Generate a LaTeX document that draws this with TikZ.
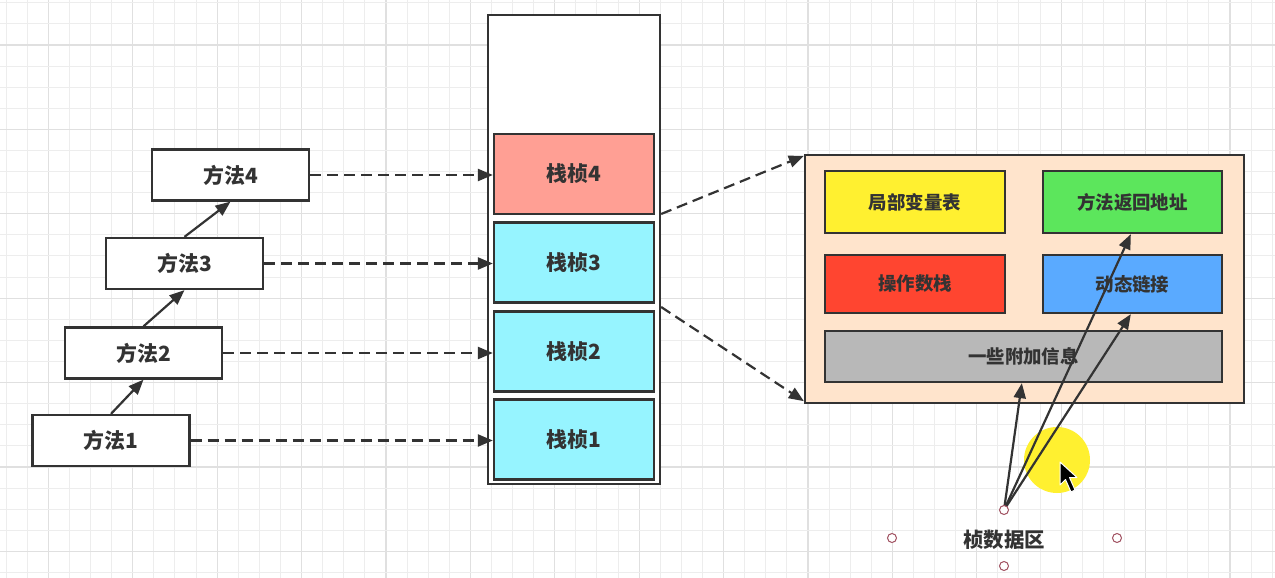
\documentclass[tikz,border=0pt]{standalone}
\usepackage{fontspec}
\setmainfont{Noto Sans CJK SC}
\usetikzlibrary{arrows.meta,calc}
\definecolor{ink}{HTML}{333333}
\definecolor{gridl}{HTML}{EDEDED}
\definecolor{gridd}{HTML}{E0E0E0}
\definecolor{salmon}{HTML}{FF9F94}
\definecolor{cyanf}{HTML}{96F4FF}
\definecolor{peach}{HTML}{FFE4CC}
\definecolor{yel}{HTML}{FFF030}
\definecolor{grn}{HTML}{5CE65C}
\definecolor{redf}{HTML}{FF4530}
\definecolor{bluf}{HTML}{5AAAFF}
\definecolor{grayf}{HTML}{B8B8B8}
\definecolor{handle}{HTML}{A05060}
\tikzset{
  box/.style={draw=ink,line width=2.3bp,text=ink,inner sep=0pt,font=\fontsize{21}{24}\selectfont\bfseries},
  mbox/.style={box,fill=white,minimum width=157bp,minimum height=51bp},
  frame/.style={box,minimum width=160bp,minimum height=80bp},
  inbox/.style={box,font=\fontsize{18.5}{22}\selectfont\bfseries},
  solidarr/.style={draw=ink,line width=2.2bp,-{Triangle[length=15bp,width=12bp]}},
  dasharr/.style={draw=ink,line width=2.2bp,dash pattern=on 11bp off 6bp,-{Triangle[length=15bp,width=12bp]}},
}
\begin{document}
\begin{tikzpicture}[x=1bp,y=-1bp]
\useasboundingbox (0,0) rectangle (1275,578);
\fill[white] (0,0) rectangle (1275,578);
% grid
\foreach \k in {-2,...,58}{
  \pgfmathsetmacro{\gx}{48.3+21.1*\k}
  \pgfmathtruncatemacro{\md}{mod(\k+100,4)}
  \ifnum\md=0 \draw[gridd,line width=1.2bp] (\gx,0) -- (\gx,578);
  \else \draw[gridl,line width=1bp] (\gx,0) -- (\gx,578); \fi
}
\foreach \k in {-2,...,26}{
  \pgfmathsetmacro{\gy}{45+21.1*\k}
  \pgfmathtruncatemacro{\md}{mod(\k+100,4)}
  \ifnum\md=0 \draw[gridd,line width=1.2bp] (0,\gy) -- (1275,\gy);
  \else \draw[gridl,line width=1bp] (0,\gy) -- (1275,\gy); \fi
}
% method boxes
\node[mbox] (m4) at (230.5,175) {方法4};
\node[mbox] (m3) at (184.5,263.5) {方法3};
\node[mbox] (m2) at (143.5,353) {方法2};
\node[mbox] (m1) at (111,440.5) {方法1};
% stack
\node[box,fill=white,minimum width=172bp,minimum height=469bp] (stack) at (574,249.5) {};
\node[frame,fill=salmon] (f4) at (574,174) {栈桢4};
\node[frame,fill=cyanf] (f3) at (574,262.5) {栈桢3};
\node[frame,fill=cyanf] (f2) at (574,351.5) {栈桢2};
\node[frame,fill=cyanf] (f1) at (574,439.5) {栈桢1};
% big box
\node[box,fill=peach,minimum width=439bp,minimum height=248bp] (big) at (1024.5,279) {};
\node[inbox,fill=yel,minimum width=180bp,minimum height=62bp] (lv) at (915,202) {局部变量表};
\node[inbox,fill=grn,minimum width=179bp,minimum height=62bp] (ra) at (1132.5,202) {方法返回地址};
\node[inbox,fill=redf,minimum width=180bp,minimum height=58bp] (os) at (915,284) {操作数栈};
\node[inbox,fill=bluf,minimum width=179bp,minimum height=58bp] (dl) at (1132.5,284) {动态链接};
\node[inbox,fill=grayf,minimum width=397bp,minimum height=51bp] (ai) at (1023.5,356.5) {一些附加信息};
% arrows between methods
\draw[solidarr] (m1.north) -- (m2.south);
\draw[solidarr] (m2.north) -- (m3.south);
\draw[solidarr] (m3.north) -- (m4.south);
% dashed arrows method -> frame
\draw[dasharr] (m4.east) -- (m4.east -| f4.west);
\draw[dasharr] (m3.east) -- (m3.east -| f3.west);
\draw[dasharr] (m2.east) -- (m2.east -| f2.west);
\draw[dasharr] (m1.east) -- (m1.east -| f1.west);
% dashed stack -> big box
\coordinate (s1) at ($(stack.east)+(0,-35.5)$);
\coordinate (s2) at ($(stack.east)+(0,57.5)$);
\coordinate (b1) at ($(big.north west)+(0,2)$);
\coordinate (b2) at ($(big.south west)+(0,-3)$);
\draw[dasharr] (s1) -- (b1);
\draw[dasharr] (s2) -- (b2);
% highlight circle (cursor)
\fill[yel] (1057,460) circle (33);
% frame data label
\node[text=ink,font=\fontsize{20.5}{24}\selectfont\bfseries] (fd) at (1004,540) {桢数据区};
\coordinate (h0) at (1004,510);
\draw[solidarr] (h0) -- ($(ai.south west)+(198,0)$);
\draw[solidarr] (h0) -- ($(ra.south west)+(89,0)$);
\draw[solidarr] (h0) -- ($(dl.south west)+(89,0)$);
\foreach \p in {(1004,510),(892,538),(1117,538),(1004,566)}
  \draw[handle,fill=white,line width=1bp] \p circle (4.5);
% mouse pointer
\draw[white,fill=black,line width=1bp,line join=round]
  (1060,462) -- (1060,485) -- (1065.5,479.5) -- (1071,492) -- (1075,490) -- (1069.5,477.5) -- (1077,477.5) -- cycle;
\end{tikzpicture}
\end{document}
